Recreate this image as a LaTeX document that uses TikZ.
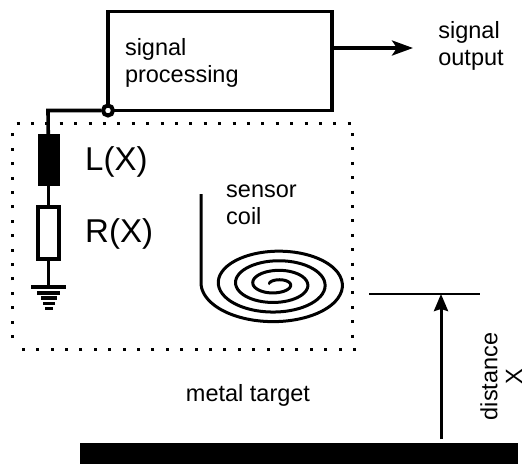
\documentclass[tikz,border=0pt]{standalone}
\usepackage{fontspec}
\setmainfont{Liberation Sans}
\usetikzlibrary{arrows.meta,positioning}
\tikzset{
  block/.style={rectangle, draw, line width=3.6pt, inner sep=0pt, outer sep=0pt},
  wire/.style={line width=3.6pt},
  flow/.style={-{Stealth[length=21pt,width=15pt,inset=5pt]}, line width=3.6pt},
  rise/.style={-{Stealth[length=17pt,width=14pt,inset=2pt]}, line width=3pt},
  coilline/.style={line width=3pt},
  guide/.style={line width=2pt},
  dots/.style={line width=3pt, dash pattern=on 3pt off 11.4pt},
  txt/.style={font=\fontsize{23.5}{27}\selectfont, align=left, inner sep=0pt},
  bigtxt/.style={font=\fontsize{33}{38}\selectfont, inner sep=0pt, anchor=west},
  groundbar/.style={rectangle, fill=black, inner sep=0pt, minimum height=3.6pt},
}
\begin{document}
\begin{tikzpicture}[x=1pt, y=-1pt]
  \useasboundingbox (0,0) rectangle (525,464);
  % signal path
  \node[block, minimum width=224pt, minimum height=99pt, text width=190pt, txt] (proc) at (220,61) {\rule{0pt}{20pt}signal\\processing};
  \node[circle, draw, line width=4pt, fill=white, minimum size=10pt, inner sep=0pt] (tap) at (proc.south west) {};
  \coordinate (bend) at (48,110.5);
  \node[block, fill=black, line width=1pt, minimum width=21pt, minimum height=51pt] (ind) at (48.5,159.5) {};
  \node[block, fill=white, line width=3.2pt, minimum width=21pt, minimum height=52pt, below=22pt of ind] (res) {};
  \node[groundbar, minimum width=35pt, below=26pt of res] (gnd) {};
  \node[groundbar, minimum width=23pt, minimum height=4pt, below=1.6pt of gnd] (gndb) {};
  \node[groundbar, minimum width=16pt, below=1.2pt of gndb] (gndc) {};
  \node[groundbar, minimum width=12pt, below=1.2pt of gndc] (gndd) {};
  \node[groundbar, minimum width=8pt, below=1.2pt of gndd] (gnde) {};
  \draw[wire] (tap) -- (bend) -- (ind);
  \draw[wire] (ind) -- (res);
  \draw[wire] (res) -- (gnd);
  \node[bigtxt] (lx) at (85,162) {L(X)};
  \node[bigtxt] (rx) at (85,233.5) {R(X)};
  % output
  \node[txt] (out) at (471,45.5) {signal\\output};
  \coordinate (outend) at (413,48);
  \draw[flow] (proc.east |- outend) -- (outend);
  % dotted frame
  \draw[dots] (16.5,123) -- (358,123);
  \draw[dots] (352,133) -- (352,342);
  \draw[dots] (356,349) -- (14,349);
  \draw[dots] (12,338) -- (12,132);
  % sensor coil
  \node[txt, anchor=north west] (sensor) at (226,185) {sensor\\coil};
  \draw[coilline] (201,194) -- (201,284) -- plot[domain=0:4, samples=240, smooth]
    ({276-(75-17.3*\x)*cos(360*\x)},{284+(40-9.6*\x)*sin(360*\x)});
  % distance
  \coordinate (top) at (441,294);
  \draw[guide] (369,294) -- (480,294);
  \node[rectangle, fill=black, minimum width=438pt, minimum height=21pt, inner sep=0pt, anchor=north west] (target) at (80,443) {};
  \coordinate (foot) at (441,439);
  \draw[rise] (foot) -- (top);
  \node[txt] (metal) at (248,395) {metal target};
  \node[txt, rotate=90] (dist) at (489,376.5) {distance};
  \node[txt, rotate=90] (xlab) at (514,376.5) {X};
\end{tikzpicture}
\end{document}
